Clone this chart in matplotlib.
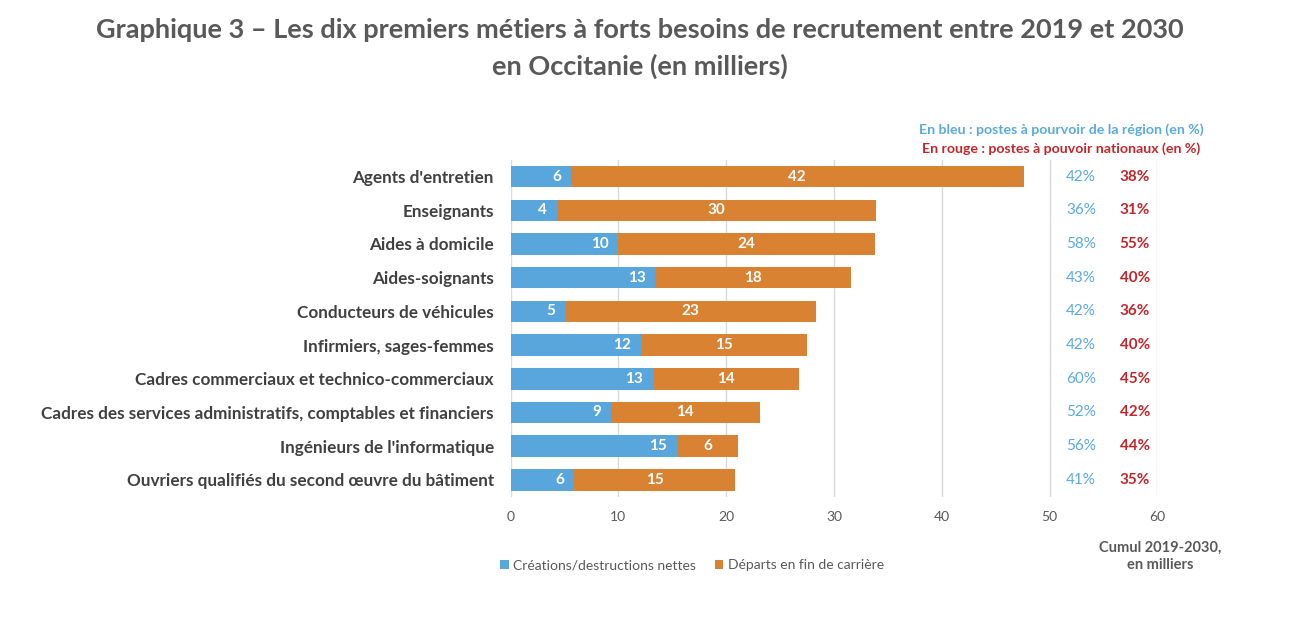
import numpy as np
import matplotlib
matplotlib.use('Agg')
import matplotlib.pyplot as plt
from matplotlib.patches import Patch

plt.rcParams['font.family'] = ['Lato', 'DejaVu Sans']

# ---------- données ---------- #
metiers = [
    "Agents d'entretien",
    "Enseignants",
    "Aides à domicile",
    "Aides-soignants",
    "Conducteurs de véhicules",
    "Infirmiers, sages-femmes",
    "Cadres commerciaux et technico-commerciaux",
    "Cadres des services administratifs, comptables et financiers",
    "Ingénieurs de l'informatique",
    "Ouvriers qualifiés du second œuvre du bâtiment",
]
creations = [5.6, 4.3, 10.0, 13.4, 5.0, 12.1, 13.2, 9.3, 15.4, 5.9]
departs = [42.0, 29.6, 23.8, 18.2, 23.3, 15.4, 13.6, 13.8, 5.7, 14.9]
pct_region = ['42%', '36%', '58%', '43%', '42%', '42%', '60%', '52%', '56%', '41%']
pct_national = ['38%', '31%', '55%', '40%', '36%', '40%', '45%', '42%', '44%', '35%']

BLUE = '#58A6DC'
ORANGE = '#D98232'
TXT_BLUE = '#5AA9DF'
TXT_RED = '#C0272D'
GREY = '#595959'

fig = plt.figure(figsize=(12.96, 6.24), dpi=100)
ax = fig.add_axes([0.394, 0.204, 0.499, 0.54])

y = np.arange(len(metiers))
ax.barh(y, creations, height=0.64, color=BLUE, zorder=3)
ax.barh(y, departs, left=creations, height=0.64, color=ORANGE, zorder=3)

for i in range(len(metiers)):
    ax.annotate(f'{creations[i]:.0f}', (creations[i], y[i]), xytext=(-7, 0),
                textcoords='offset points', ha='right', va='center',
                color='white', fontsize=11, fontweight='bold', zorder=4)
    ax.text(creations[i] + departs[i] / 2, y[i], f'{departs[i]:.0f}',
            ha='center', va='center', color='white', fontsize=11,
            fontweight='bold', zorder=4)
    ax.text(52.9, y[i], pct_region[i], ha='center', va='center',
            color=TXT_BLUE, fontsize=11)
    ax.text(57.9, y[i], pct_national[i], ha='center', va='center',
            color=TXT_RED, fontsize=11, fontweight='bold')

ax.set_xlim(0, 60)
ax.set_ylim(len(metiers) - 0.5, -0.5)
ax.set_xticks(np.arange(0, 61, 10))
ax.set_yticks(y)
ax.set_yticklabels(metiers, fontsize=12.3, fontweight='bold', color='#404040')
ax.tick_params(axis='x', colors=GREY, labelsize=10, length=0, pad=10)
ax.tick_params(axis='y', length=0, pad=12)
ax.grid(axis='x', color='#D9D9D9', linewidth=1, zorder=0)
for s in ax.spines.values():
    s.set_visible(False)

fig.text(0.494, 0.952, 'Graphique 3 – Les dix premiers métiers à forts besoins de recrutement entre 2019 et 2030',
         ha='center', va='center', fontsize=19.5, fontweight='bold', color=GREY)
fig.text(0.494, 0.893, 'en Occitanie (en milliers)',
         ha='center', va='center', fontsize=19.5, fontweight='bold', color=GREY)

fig.text(0.819, 0.792, 'En bleu : postes à pourvoir de la région (en %)',
         ha='center', va='center', fontsize=10.2, fontweight='bold', color=TXT_BLUE)
fig.text(0.819, 0.761, 'En rouge : postes à pouvoir nationaux (en %)',
         ha='center', va='center', fontsize=10.2, fontweight='bold', color=TXT_RED)

fig.text(0.895, 0.108, 'Cumul 2019-2030,\nen milliers', ha='center', va='center',
         fontsize=10.5, fontweight='bold', color=GREY, linespacing=1.3)

handles = [Patch(facecolor=BLUE, label='Créations/destructions nettes'),
           Patch(facecolor=ORANGE, label='Départs en fin de carrière')]
fig.legend(handles=handles, loc='center', bbox_to_anchor=(0.534, 0.094), ncol=2,
           frameon=False, fontsize=10, handlelength=0.6, handleheight=0.6,
           handletextpad=0.3, columnspacing=1.4, labelcolor=GREY)

fig.savefig('out.png', dpi=100)
